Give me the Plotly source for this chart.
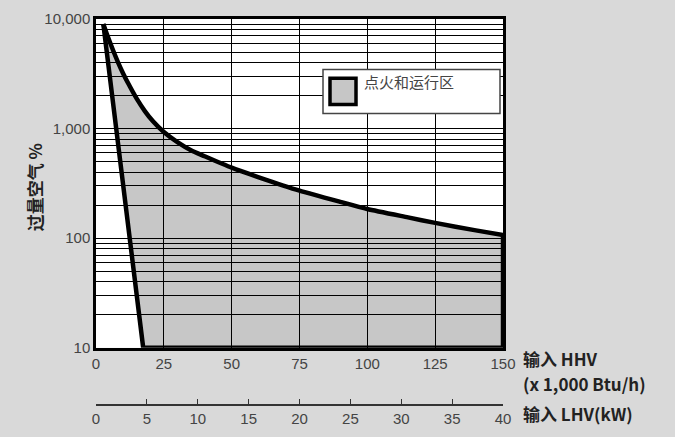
import plotly.graph_objects as go

# Data
apex = (2.7, 9000)
left_bottom = (17.4, 10)
curve_x = [150, 140, 125, 115, 100, 90, 75, 60, 50, 40, 35, 30, 25, 21, 18, 15, 12, 10, 8, 6, 4]
curve_y = [107, 118, 138, 155, 185, 215, 272, 360, 440, 560, 635, 753, 930, 1165, 1445, 1875, 2550, 3190, 4090, 5410, 7300]
hhv_ticks = [0, 25, 50, 75, 100, 125, 150]
lhv_ticks = [0, 5, 10, 15, 20, 25, 30, 35, 40]
y_major = [10, 100, 1000, 10000]
y_major_text = ["10", "100", "1,000", "10,000"]
legend_name = "点火和运行区"

region_x = [apex[0], left_bottom[0], 150] + curve_x + [apex[0]]
region_y = [apex[1], left_bottom[1], 10] + curve_y + [apex[1]]
edge_x = [apex[0], left_bottom[0], 150, curve_x[0]]
edge_y = [apex[1], left_bottom[1], 10, curve_y[0]]
top_x = curve_x + [apex[0]]
top_y = curve_y + [apex[1]]

y_all = []
y_text = []
for d in [10, 100, 1000]:
    for m in range(1, 10):
        y_all.append(d * m)
        y_text.append(y_major_text[y_major.index(d)] if m == 1 else "")
y_all.append(10000)
y_text.append("10,000")

FONT = "Liberation Sans, Arial, sans-serif"
CJK = "Noto Sans CJK SC, sans-serif"

fig = go.Figure()
# filled region
fig.add_trace(go.Scatter(
    x=region_x, y=region_y, mode="lines", fill="toself",
    fillcolor="rgba(0,0,0,0.22)", line=dict(width=0),
    name=legend_name, showlegend=False, hoverinfo="skip",
))
# straight boundary (left edge, bottom, right)
fig.add_trace(go.Scatter(
    x=edge_x, y=edge_y, mode="lines", line=dict(color="black", width=4.5),
    cliponaxis=False, showlegend=False, name=legend_name,
))
# curved upper boundary
fig.add_trace(go.Scatter(
    x=top_x, y=top_y, mode="lines",
    line=dict(color="black", width=4.5, shape="spline", smoothing=0.6),
    cliponaxis=False, showlegend=False, name=legend_name,
))
# invisible trace for second x axis
fig.add_trace(go.Scatter(x=[0, 40], y=[10, 10], xaxis="x2", yaxis="y",
                         mode="markers", marker=dict(opacity=0), showlegend=False,
                         hoverinfo="skip"))

# pixel helpers (plot area: x 96..503, paper y 10..417)
L, R, T, B = 96, 503, 10, 417
def px(x):
    return (x - L) / (R - L)
def py(y):
    return (B - y) / (B - T)

fig.update_layout(
    width=675, height=437,
    margin=dict(l=L, r=675 - R, t=T, b=437 - B),
    paper_bgcolor="#d9d9d9", plot_bgcolor="white",
    font=dict(family=FONT, size=15, color="#444"),
    showlegend=False,
    xaxis=dict(range=[0, 150], tickvals=hhv_ticks, ticktext=[str(v) for v in hhv_ticks],
               showgrid=True, gridcolor="black", gridwidth=1.2,
               showline=True, linecolor="black", linewidth=2.5, mirror=True,
               ticks="", zeroline=False, anchor="y", tickfont=dict(size=15, color="#444")),
    xaxis2=dict(range=[0, 40], tickvals=lhv_ticks, ticktext=[str(v) for v in lhv_ticks],
                overlaying="x", anchor="free", position=py(407), side="bottom",
                showgrid=False, showline=True, linecolor="#333", linewidth=1.5,
                ticks="inside", ticklen=6, tickcolor="#333", zeroline=False,
                tickfont=dict(size=15, color="#444")),
    yaxis=dict(type="log", range=[1, 4], domain=[py(348), 1],
               tickvals=y_all, ticktext=y_text,
               showgrid=True, gridcolor="black", gridwidth=1.2,
               showline=True, linecolor="black", linewidth=2.5, mirror=True,
               ticks="", zeroline=False, tickfont=dict(size=15, color="#444")),
    shapes=[
        dict(type="rect", xref="paper", yref="paper",
             x0=px(323), x1=px(500), y0=py(107), y1=py(62),
             fillcolor="white", line=dict(color="#444", width=1.5), layer="above"),
        dict(type="rect", xref="paper", yref="paper",
             x0=px(330), x1=px(356), y0=py(98), y1=py(71),
             fillcolor="#c6c6c6", line=dict(color="black", width=3.5), layer="above"),
    ],
    annotations=[
        dict(text=legend_name, xref="paper", yref="paper",
             x=px(362), y=py(74), xanchor="left", yanchor="middle",
             showarrow=False, font=dict(family=CJK, size=15, color="#444")),
        dict(text="<b>过量空气 %</b>", xref="paper", yref="paper", textangle=-90,
             x=px(34), y=py(183), xanchor="center", yanchor="middle",
             showarrow=False, font=dict(family=CJK, size=17, color="#222")),
        dict(text="<b>输入 HHV</b>", xref="paper", yref="paper",
             x=px(521), y=py(359), xanchor="left", yanchor="middle",
             showarrow=False, font=dict(family=CJK, size=17, color="#222")),
        dict(text="<b>(x 1,000 Btu/h)</b>", xref="paper", yref="paper",
             x=px(521), y=py(385), xanchor="left", yanchor="middle",
             showarrow=False, font=dict(family=CJK, size=17, color="#222")),
        dict(text="<b>输入 LHV(kW)</b>", xref="paper", yref="paper",
             x=px(521), y=py(415), xanchor="left", yanchor="middle",
             showarrow=False, font=dict(family=CJK, size=17, color="#222")),
    ],
)

fig.write_html("out.html")
